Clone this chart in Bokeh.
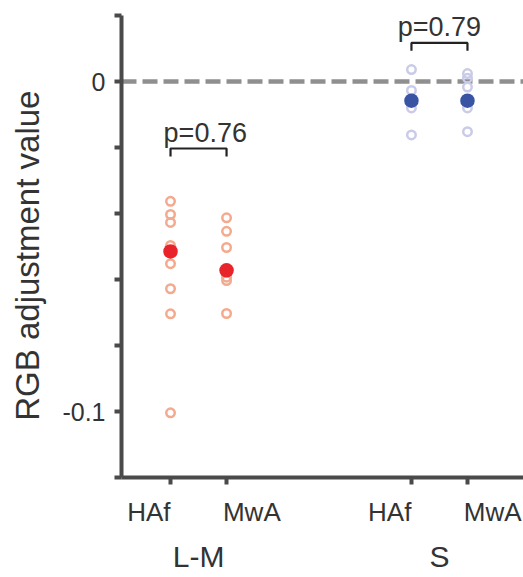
from bokeh.plotting import figure
from bokeh.models import Range1d, FixedTicker, Span, LinearAxis
from bokeh.core.properties import value
from bokeh.embed import file_html
from bokeh.resources import INLINE

# ---------------- data ----------------
groups = ["L-M", "S"]
conditions = ["HAf", "MwA"]

lm_haf = [-0.0363, -0.0403, -0.0427, -0.0497, -0.0552, -0.0628, -0.0704, -0.1004]
lm_mwa = [-0.0413, -0.0454, -0.0503, -0.0572, -0.0593, -0.0603, -0.0703]
s_haf = [0.0036, -0.0027, -0.0058, -0.0080, -0.0162]
s_mwa = [0.0024, 0.0010, -0.0017, -0.0080, -0.0152]

lm_means = [-0.0515, -0.0572]   # HAf, MwA
s_means = [-0.0058, -0.0058]    # HAf, MwA

p_labels = ["p=0.76", "p=0.79"]

y_label_ticks = [0, -0.1]
y_minor_ticks = [0.02, -0.02, -0.04, -0.06, -0.08, -0.12]

# ---------------- layout ----------------
FONT = "Liberation Sans"
TXT = "#333333"
AX = "#4a4a4a"
NB = "\u00a0"
pos = {("L-M", "HAf"): 1.0, ("L-M", "MwA"): 2.0, ("S", "HAf"): 5.3, ("S", "MwA"): 6.3}

p = figure(width=523, height=577, output_backend="svg", toolbar_location=None,
           x_range=Range1d(0.125, 7.3), y_range=Range1d(-0.12, 0.02),
           min_border_left=121, min_border_right=0, min_border_top=15, min_border_bottom=100)
p.outline_line_color = None
p.grid.visible = False
p.background_fill_color = "white"
p.border_fill_color = "white"

# zero line
zero = Span(location=0, dimension="width", line_color="#8f8f8f", line_width=4.5,
            line_dash="15 6", level="underlay")
p.add_layout(zero)

series = [
    ("L-M", lm_haf, lm_mwa, lm_means, "#f4aa8e", "#e8232a"),
    ("S", s_haf, s_mwa, s_means, "#c9cbe8", "#3a54a4"),
]
for g, haf, mwa, means, light, dark in series:
    xs = [pos[(g, "HAf")]] * len(haf) + [pos[(g, "MwA")]] * len(mwa)
    ys = haf + mwa
    p.scatter(x=xs, y=ys, size=8.5, marker="circle", fill_color=None,
              line_color=light, line_width=2.5)
    p.scatter(x=[pos[(g, c)] for c in conditions], y=means, size=14.5,
              marker="circle", fill_color=dark, line_color=dark, line_width=0)

# significance brackets
bracket_y = {"L-M": -0.0203, "S": 0.0117}
leg = 0.0024
for g, lab in zip(groups, p_labels):
    x0, x1 = pos[(g, "HAf")], pos[(g, "MwA")]
    by = bracket_y[g]
    p.line(x=[x0, x0, x1, x1], y=[by - leg, by, by, by - leg], line_color="#222222",
           line_width=2.2)
    p.text(x=[(x0 + x1) / 2 + (0.12 if g == "L-M" else 0)], y=[by + 0.0048], text=[lab],
           text_font=value(FONT), text_font_size="27px", text_color=TXT,
           text_align="center", text_baseline="alphabetic")

# y axis
yax = p.yaxis[0]
yax.ticker = FixedTicker(ticks=y_label_ticks, minor_ticks=y_minor_ticks)
yax.major_label_overrides = {0: "0", -0.1: "-0.1"}
yax.axis_line_color = AX
yax.axis_line_width = 4
for attr in ("major", "minor"):
    setattr(yax, f"{attr}_tick_line_color", AX)
    setattr(yax, f"{attr}_tick_line_width", 4)
    setattr(yax, f"{attr}_tick_out", 7)
    setattr(yax, f"{attr}_tick_in", 0)
yax.major_label_standoff = 9
yax.major_label_text_font = FONT
yax.major_label_text_font_size = "25px"
yax.major_label_text_color = TXT
yax.axis_label = "RGB adjustment value" + NB * 2
yax.axis_label_text_font = FONT
yax.axis_label_text_font_size = "33px"
yax.axis_label_text_font_style = "normal"
yax.axis_label_text_color = TXT
yax.axis_label_standoff = 13

# x axis: condition labels (HAf sits left of its tick, MwA right of its tick)
cond_text = {"HAf": "HAf" + NB * 6, "MwA": NB * 7 + "MwA"}
xax = p.xaxis[0]
xticks = [pos[k] for k in pos]
xax.ticker = FixedTicker(ticks=xticks, minor_ticks=[])
xax.major_label_overrides = {pos[k]: cond_text[k[1]] for k in pos}
xax.major_label_text_font = FONT
xax.major_label_text_font_size = "26px"
xax.major_label_text_color = TXT
xax.major_label_standoff = 12
xax.axis_line_color = AX
xax.axis_line_width = 4
xax.major_tick_line_color = AX
xax.major_tick_line_width = 4
xax.major_tick_out = 7
xax.major_tick_in = 0
xax.minor_tick_line_color = None

# second axis below: group labels
gmid = {g: (pos[(g, "HAf")] + pos[(g, "MwA")]) / 2 for g in groups}
gax = LinearAxis(ticker=FixedTicker(ticks=[gmid[g] for g in groups], minor_ticks=[]),
                 major_label_overrides={gmid[g]: g for g in groups})
gax.axis_line_color = None
gax.major_tick_line_color = None
gax.minor_tick_line_color = None
gax.major_tick_out = 0
gax.major_tick_in = 0
gax.major_label_standoff = 10
gax.major_label_text_font = FONT
gax.major_label_text_font_size = "30px"
gax.major_label_text_color = TXT
p.add_layout(gax, "below")

open("out.html", "w").write(file_html(p, INLINE))
